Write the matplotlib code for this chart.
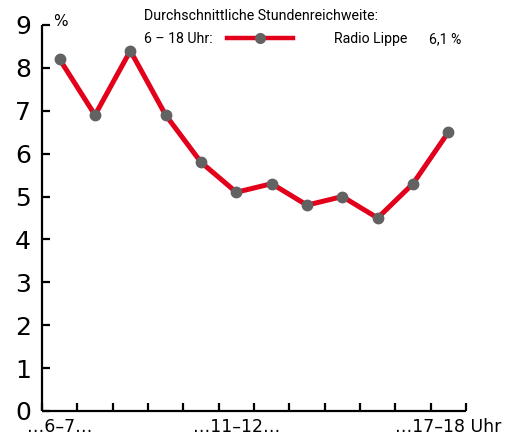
import matplotlib
matplotlib.use("Agg")
import matplotlib.pyplot as plt
from matplotlib.lines import Line2D

plt.rcParams["font.family"] = ["DejaVu Sans"]
NARROW = ["Roboto", "DejaVu Sans"]

HOURS = ["6–7", "7–8", "8–9", "9–10", "10–11", "11–12",
         "12–13", "13–14", "14–15", "15–16", "16–17", "17–18"]
REACH = [8.2, 6.9, 8.4, 6.9, 5.8, 5.1, 5.3, 4.8, 5.0, 4.5, 5.3, 6.5]
Y_TICKS = list(range(10))
LABELLED = {0: "…6–7…", 5: "…11–12…", 11: "…17–18 Uhr"}
STATION = "Radio Lippe"
AVERAGE = "6,1 %"

RED = "#E2001A"
GREY = "#626262"
TEXT_SIZE = 10.2

fig = plt.figure(figsize=(5.13, 4.42), dpi=100)
ax = fig.add_axes([42 / 513, 31 / 442, 424 / 513, 386 / 442])

x = list(range(len(HOURS)))
line, = ax.plot(x, REACH, color=RED, lw=3.6, marker="o", ms=7.5,
                mfc=GREY, mec=GREY, solid_joinstyle="miter", zorder=3)

ax.set_xlim(-0.5, len(HOURS) - 0.5)
ax.set_ylim(0, 9)
for side in ("top", "right"):
    ax.spines[side].set_visible(False)
for side in ("left", "bottom"):
    ax.spines[side].set_linewidth(1.6)
    ax.spines[side].set_capstyle("butt")

ax.set_yticks(Y_TICKS)
ax.set_yticklabels([str(v) for v in Y_TICKS], fontsize=18)
ax.tick_params(axis="y", direction="in", length=6, width=1.6, pad=8)

ax.set_xticks([i - 0.5 for i in range(len(HOURS) + 1)])
ax.set_xticklabels([])
ax.tick_params(axis="x", which="major", direction="in", length=6, width=1.6)
ax.set_xticks(list(LABELLED.keys()), minor=True)
ax.set_xticklabels(list(LABELLED.values()), minor=True, fontsize=12.5)
ax.tick_params(axis="x", which="minor", length=0, pad=5)

ax.text(0.026, 1.008, "%", transform=ax.transAxes, ha="left", va="center",
        fontsize=11)

fig.text(144 / 513, 1 - 16 / 442, "Durchschnittliche Stundenreichweite:",
         fontsize=TEXT_SIZE, va="center", ha="left", family=NARROW)
fig.text(144 / 513, 1 - 39 / 442, "6 – 18 Uhr:", fontsize=TEXT_SIZE,
         va="center", ha="left", family=NARROW)
fig.text(429 / 513, 1 - 39 / 442, AVERAGE, fontsize=TEXT_SIZE,
         va="center", ha="left", family=NARROW)

handle = Line2D([], [], color=RED, lw=3.2, marker="o", ms=7,
                mfc=GREY, mec=GREY)
fig.legend([handle], [STATION], loc="center left",
           bbox_to_anchor=(227 / 513, 1 - 39 / 442), frameon=False,
           prop={"family": NARROW, "size": TEXT_SIZE},
           handlelength=4.65, handletextpad=2.9,
           borderpad=0, borderaxespad=0)

fig.savefig("out.png", dpi=100)
